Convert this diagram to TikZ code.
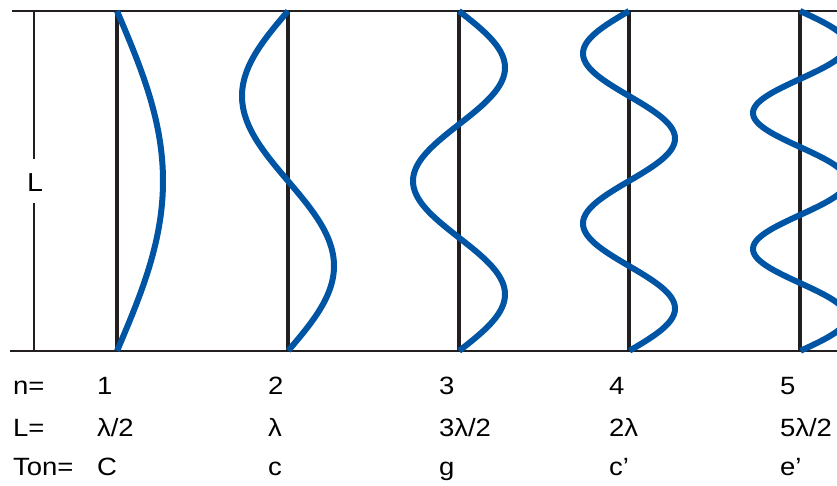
\documentclass[tikz,border=0pt]{standalone}
\usepackage{fontspec}
\setmainfont{Liberation Sans}
\definecolor{wblue}{RGB}{0,84,164}
\definecolor{wblack}{RGB}{35,31,32}
\tikzset{
  wave/.style={draw=wblue, line width=6pt},
  string/.style={draw=wblack, line width=3.5pt},
  rail/.style={draw=wblack, line width=2pt},
  dim/.style={draw=wblack, line width=1.5pt},
  lbl/.style={anchor=base west, inner sep=0pt, outer sep=0pt, font=\fontsize{25}{29}\selectfont, xscale=1.1, transform shape},
}
\begin{document}
\begin{tikzpicture}[x=1pt, y=-1pt]
\useasboundingbox (0,0) rectangle (837,485);
\clip (0,0) rectangle (837,485);
% rails
\coordinate (tl) at (12,11);
\coordinate (tr) at (840,11);
\coordinate (bl) at (10,351);
\coordinate (br) at (840,351);
\draw[rail] (tl) -- (tr);
\draw[rail] (bl) -- (br);
% L dimension
\node[lbl, anchor=center, xscale=1, font=\fontsize{26}{30}\selectfont] (Llab) at (35,183) {L};
\coordinate (dtop) at (34,11);
\coordinate (dbot) at (34,351);
\draw[dim] (dtop) -- (34,159);
\draw[dim] (34,203) -- (dbot);
% strings
\foreach \i/\xx in {1/117,2/288,3/459,4/629,5/800}{
  \coordinate (s\i t) at (\xx,11);
  \coordinate (s\i b) at (\xx,351);
  \draw[string] (s\i t) -- (s\i b);
}
% waves
\draw[wave] plot[domain=0:1, samples=80, smooth] ({117+46*sin(180*\x)}, {11+340*\x});
\draw[wave] plot[domain=0:1, samples=120, smooth] ({288-46*sin(360*\x)}, {11+340*\x});
\draw[wave] plot[domain=0:1, samples=160, smooth] ({459+46*sin(540*\x)}, {11+340*\x});
\draw[wave] plot[domain=0:1, samples=200, smooth] ({629-46*sin(720*\x)}, {11+340*\x});
\draw[wave] plot[domain=0:1, samples=240, smooth] ({800+47*sin(900*\x)}, {11+340*\x});
% labels
\node[lbl] (hn) at (13,394) {n=};
\node[lbl] (hL) at (13,436) {L=};
\node[lbl] (hT) at (13,475) {Ton=};
\node[lbl] (n1) at (97,394) {1};
\node[lbl] (L1) at (97,436) {λ/2};
\node[lbl] (T1) at (97,475) {C};
\node[lbl] (n2) at (268,394) {2};
\node[lbl] (L2) at (268,436) {λ};
\node[lbl] (T2) at (268,475) {c};
\node[lbl] (n3) at (439,394) {3};
\node[lbl] (L3) at (439,436) {3λ/2};
\node[lbl] (T3) at (439,475) {g};
\node[lbl] (n4) at (609,394) {4};
\node[lbl] (L4) at (609,436) {2λ};
\node[lbl] (T4) at (609,475) {c’};
\node[lbl] (n5) at (780,394) {5};
\node[lbl] (L5) at (780,436) {5λ/2};
\node[lbl] (T5) at (780,475) {e’};
\end{tikzpicture}
\end{document}
